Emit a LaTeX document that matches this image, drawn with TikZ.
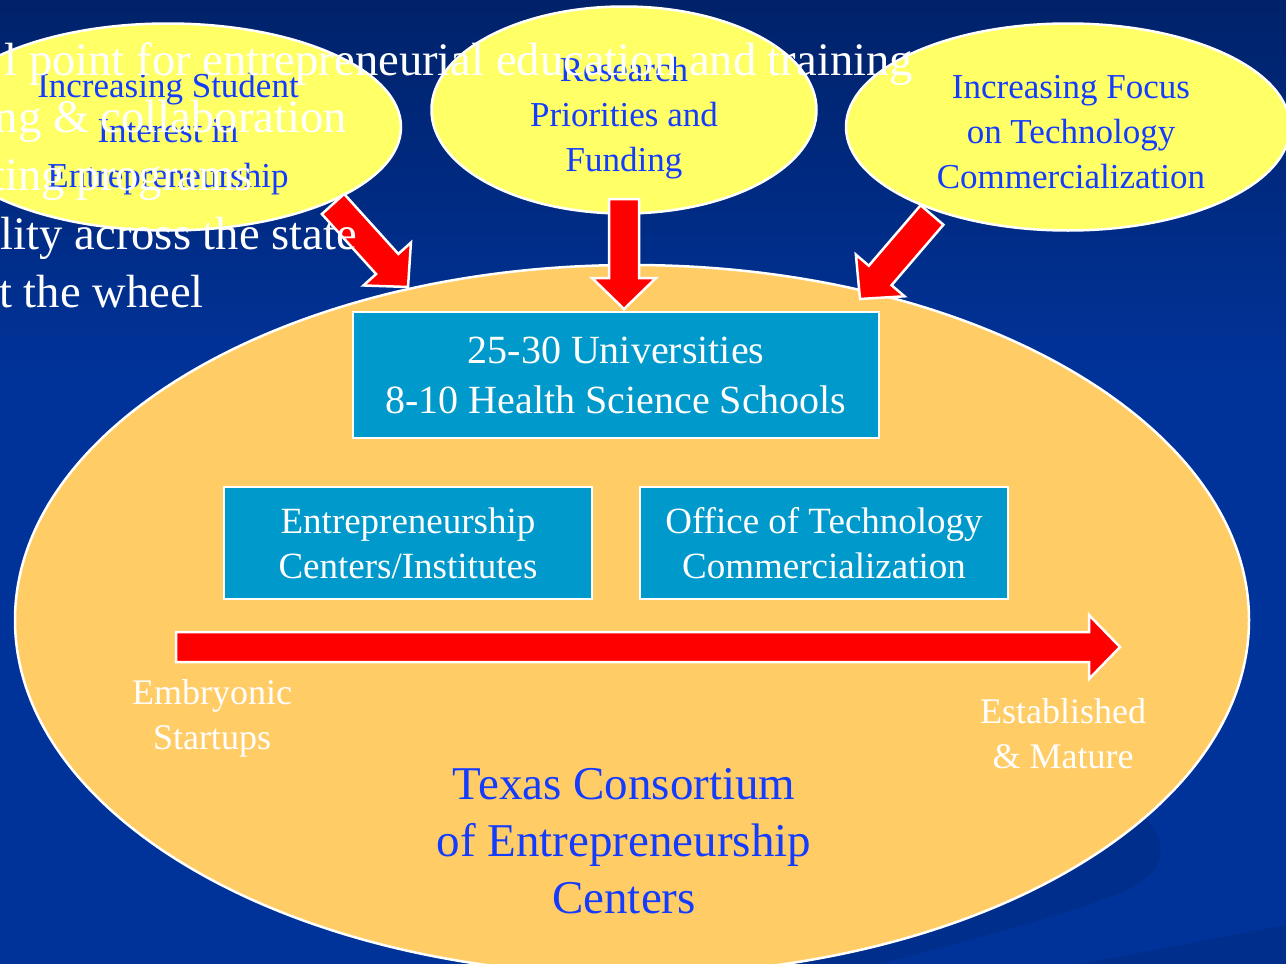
\documentclass[tikz,border=0pt]{standalone}
\usepackage{fontspec}
\setmainfont{Liberation Serif}
\usetikzlibrary{shapes.geometric,calc}

\definecolor{slidetop}{RGB}{0,34,106}
\definecolor{slideblue}{RGB}{0,51,153}
\definecolor{swirlblue}{RGB}{0,46,140}
\definecolor{bubbleyellow}{RGB}{255,255,102}
\definecolor{wheelorange}{RGB}{255,204,102}
\definecolor{boxblue}{RGB}{0,153,204}
\definecolor{textblue}{RGB}{20,60,255}

% block arrow from #1 to #2 (shaft, then head)
\newcommand{\blockarrow}[2]{%
  \coordinate (hb) at ($(#2)!31pt!(#1)$);
  \filldraw[redarrow] ($(#1)!15pt!90:(#2)$) -- ($(hb)!15pt!90:(#2)$) -- ($(hb)!32pt!90:(#2)$) -- (#2)
    -- ($(hb)!32pt!-90:(#2)$) -- ($(hb)!15pt!-90:(#2)$) -- ($(#1)!15pt!-90:(#2)$) -- cycle;
}

\begin{document}
\begin{tikzpicture}[x=1pt,y=-1pt,
  bubble/.style={ellipse, draw=white, line width=2.5pt, fill=bubbleyellow, inner sep=0pt},
  bubbletext/.style={text=textblue, align=center, inner sep=0pt, font=\fontsize{35}{45}\selectfont},
  wheel/.style={ellipse, draw=white, line width=2.5pt, fill=wheelorange, inner sep=0pt},
  unitbox/.style={draw=white, line width=2.5pt, fill=boxblue, text=white, align=center, inner sep=0pt},
  stagelabel/.style={text=white, align=center, font=\fontsize{36}{45}\selectfont},
  bullettext/.style={text=white, anchor=base east, inner sep=0pt, font=\fontsize{46.6}{58}\selectfont},
  redarrow/.style={fill=red, draw=white, line width=2.5pt, line join=miter}]

\useasboundingbox (0,0) rectangle (1286,964);
\clip (0,0) rectangle (1286,964);

% slide background
\fill[slideblue] (0,0) rectangle (1286,964);
\shade[top color=slidetop, bottom color=slideblue] (0,0) rectangle (1286,380);
\fill[swirlblue] (1100,790) -- (1139,812) .. controls (1172,840) and (1170,875) .. (1115,895)
  .. controls (1050,920) and (950,945) .. (880,964) -- (700,964) -- cycle;
\fill[swirlblue] (1080,964) -- (1286,925) -- (1286,964) -- cycle;

% Consortium (big ellipse)
\node[wheel, minimum width=1234pt, minimum height=710pt] (consortium) at (632,620) {};

% Universities
\node[unitbox, minimum width=526pt, minimum height=126pt, font=\fontsize{40}{50}\selectfont] (universities) at (616,375) {25-30 Universities\\8-10 Health Science Schools};

% Centers and OTC
\node[unitbox, minimum width=368pt, minimum height=112pt, font=\fontsize{37}{45}\selectfont] (centers) at (408,543) {Entrepreneurship\\Centers/Institutes};
\node[unitbox, minimum width=368pt, minimum height=112pt, font=\fontsize{37}{45}\selectfont] (otc) at (824,543) {Office of Technology\\Commercialization};

% stage arrow
\coordinate (stageStart) at (176,647);
\coordinate (stageEnd) at (1120,647);
\blockarrow{stageStart}{stageEnd}

\node[stagelabel] (embryonic) at (212,718) {Embryonic\\Startups};
\node[stagelabel] (mature) at (1063,734) {Established\\\& Mature};

\node[text=textblue, align=center, font=\fontsize{47}{57}\selectfont] (title) at (624,841) {Texas Consortium\\of Entrepreneurship\\Centers};

% Drivers (top ellipses)
\node[bubble, minimum width=466pt, minimum height=207pt] (student) at (168,127) {};
\node[bubble, minimum width=385pt, minimum height=207pt] (research) at (624,110) {};
\node[bubble, minimum width=444pt, minimum height=207pt] (focus) at (1068,127) {};
\node[bubbletext] (studentText) at (168,134) {Increasing Student\\Interest in\\Entrepreneurship};
\node[bubbletext] (researchText) at (624,118) {Research\\Priorities and\\Funding};
\node[bubbletext] (focusText) at (1071,132) {Increasing Focus\\on Technology\\Commercialization};

% arrows into the consortium
\coordinate (studentTail) at (333,204);
\coordinate (studentTip) at (408,287);
\coordinate (researchTail) at (624,199);
\coordinate (researchTip) at (624,309);
\coordinate (focusTail) at (932,215);
\coordinate (focusTip) at (860,299);
\blockarrow{studentTail}{studentTip}
\blockarrow{researchTail}{researchTip}
\blockarrow{focusTail}{focusTip}

% slide text behind the diagram
\node[bullettext] (bulletA) at (913,75) {l point for entrepreneurial education and training};
\node[bullettext] (bulletB) at (347,132) {ng \& collaboration};
\node[bullettext] (bulletC) at (253,190) {ting programs};
\node[bullettext] (bulletD) at (357,249) {ility across the state};
\node[bullettext] (bulletE) at (204,307) {t the wheel};

\end{tikzpicture}
\end{document}
